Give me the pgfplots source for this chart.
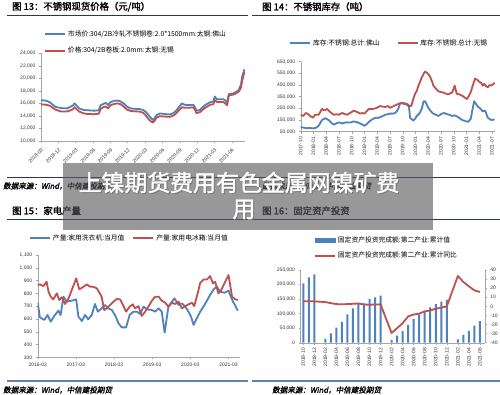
\documentclass[border=0pt]{standalone}
\usepackage{pgfplots}
\pgfplotsset{compat=1.18}
\usepackage{fontspec}
\setmainfont{Liberation Sans}
\newfontfamily\cjk{Noto Sans CJK SC}
\newfontfamily\cjkb[FakeBold=1.6]{Noto Sans CJK SC}
\newfontfamily\cjksrc[FakeSlant=0.2,FakeBold=1.4]{Noto Sans CJK SC}
\definecolor{sblue}{RGB}{79,129,189}
\definecolor{sred}{RGB}{192,80,77}
\definecolor{navy}{RGB}{31,56,100}
\definecolor{steel}{RGB}{100,130,165}
\definecolor{bannergray}{RGB}{90,90,90}
\pgfplotsset{every axis/.append style={scale only axis, anchor=south west,
  axis line style={-,gray!70}, tick style={gray!70, line width=0.4bp},
  major tick length=2bp, tick align=outside,
  scaled x ticks=false, scaled y ticks=false,
  ticklabel style={font=\fontsize{5}{6}\selectfont, text=black!80},
  legend style={draw=none, fill=none, font=\cjk\fontsize{6.8}{8}\selectfont,
    inner sep=0pt, anchor=north west},
  legend cell align=left}}
\begin{document}
\begin{tikzpicture}
\path[use as bounding box, fill=white] (0,0) rectangle (500bp,395bp);
% ---------- chart 13
\begin{axis}[at={(41bp,254bp)}, width=204bp, height=87.7bp,
  xmin=0, xmax=35.3, ymin=10000, ymax=24000,
  axis x line*=bottom, axis y line*=left,
  legend image code/.code={\draw[#1] (0bp,0bp) -- (20bp,0bp);},
  xtick={0,3,...,33},
  xticklabels={2018-09,2018-12,2019-03,2019-06,2019-09,2019-12,2020-03,2020-06,2020-09,2020-12,2021-03,2021-06},
  xticklabel style={rotate=45, anchor=north east},
  ytick={10000,12000,14000,16000,18000,20000,22000,24000},
  yticklabels={{10,000},{12,000},{14,000},{16,000},{18,000},{20,000},{22,000},{24,000}},
  legend style={at={(0.0147,1.285)}, row sep=5.5bp}]
\addplot[sblue, line width=1.8bp, line join=round] coordinates {
(0,16500) (0.8,16450) (1.5,16200) (2.5,15450) (3.5,15250) (4.5,15200) (5.5,15650) (5.8,16000) (6.6,15200) (7.4,14950) (8.2,14900) (9.2,14840) (10,14900) (10.3,15700) (10.8,15900) (11.2,16100) (11.6,15750) (12,16200) (12.6,16400) (13.2,16450) (13.7,16350) (14.3,16000) (14.9,15480) (15.5,15200) (16,15150) (17,15100) (17.7,14950) (18.2,14600) (18.6,14150) (19,13700) (19.4,13340) (19.7,13700) (20,14150) (20.6,14400) (21.5,14300) (22.3,14240) (23,14500) (23.5,14950) (24,15600) (24.4,16000) (24.8,15800) (25.2,15750) (26.4,15750) (26.7,15300) (26.9,14840) (27.5,14950) (28,15400) (28.4,15750) (29.3,16200) (29.8,16300) (30.1,17100) (30.4,16650) (31.6,16650) (32,16400) (32.2,16000) (32.5,17500) (33.3,17600) (34.2,18100) (34.6,19000) (34.8,20250) (35.2,21450)};
\addlegendentry{市场价:304/2B冷轧不锈钢卷:2.0*1500mm:太钢:佛山}
\addplot[sred, line width=1.8bp, line join=round] coordinates {
(0,15850) (0.8,15800) (1.5,15650) (2.5,15000) (3.5,14700) (4.5,14700) (5.5,15050) (5.8,15400) (6.6,14700) (7.4,14400) (8.2,14300) (9.2,14280) (10,14350) (10.3,15100) (10.8,15400) (11.2,15500) (11.6,15200) (12,15700) (12.6,15900) (13.2,16000) (13.7,15900) (14.3,15500) (14.9,15000) (15.5,14800) (16,14750) (17,14700) (17.7,14500) (18.2,14000) (18.6,13500) (19,13150) (19.4,12950) (19.7,13300) (20,13750) (20.6,13950) (21.5,13900) (22.3,13850) (23,14100) (23.5,14500) (24,15050) (24.4,15400) (24.8,15300) (25.2,15300) (26.4,15350) (26.7,14900) (26.9,14450) (27.5,14600) (28,15000) (28.4,15300) (29.3,15800) (29.8,15850) (30.1,16500) (30.4,16250) (31.6,16200) (32,15900) (32.2,15700) (32.5,17300) (33.3,17400) (34.2,17850) (34.6,18500) (34.8,19600) (35.2,21000)};
\addlegendentry{价格:304/2B卷板:2.0mm:太钢:无锡}
\end{axis}
% ---------- chart 14
\begin{axis}[at={(300.7bp,263.3bp)}, width=194.3bp, height=70bp,
  xmin=0, xmax=45.7, ymin=50000, ymax=650000,
  axis x line*=bottom, axis y line*=left,
  legend image code/.code={\draw[#1] (0bp,0bp) -- (20bp,0bp);},
  xtick={0,3,...,45},
  xticklabels={2017-10,2018-01,2018-04,2018-07,2018-10,2019-01,2019-04,2019-07,2019-10,2020-01,2020-04,2020-07,2020-10,2021-01,2021-04,2021-07},
  xticklabel style={rotate=90, anchor=east},
  ytick={50000,150000,250000,350000,450000,550000,650000},
  yticklabels={{50,000},{150,000},{250,000},{350,000},{450,000},{550,000},{650,000}},
  legend columns=2,
  legend style={at={(-0.060,1.349)}, /tikz/every even column/.append style={column sep=15bp}}]
\addplot[sblue, line width=1.8bp, line join=round] coordinates {
(0,90000) (0.6,85000) (1.4,80000) (2.2,82000) (3,78000) (3.6,84000) (4.2,100000) (4.6,125000) (5,150000) (5.8,165000) (6.6,150000) (7.2,125000) (7.8,110000) (8.4,122000) (9,130000) (9.8,120000) (10.4,128000) (10.9,130000) (11.6,128000) (12.5,138000) (13.2,132000) (14,120000) (14.5,112000) (15,100000) (15.6,118000) (16.4,145000) (17,160000) (17.6,170000) (18.2,168000) (18.7,175000) (19.3,185000) (19.9,195000) (20.5,200000) (21,205000) (21.6,205000) (22.2,210000) (22.6,225000) (23,250000) (23.4,295000) (24.2,295000) (24.8,290000) (25.4,280000) (25.6,220000) (25.7,170000) (26.5,145000) (26.9,160000) (27.3,185000) (28,210000) (28.5,250000) (28.9,310000) (29.3,310000) (30,255000) (30.6,225000) (31.2,205000) (31.8,195000) (32.4,185000) (33.2,205000) (33.8,210000) (34.4,200000) (35,195000) (35.6,185000) (36.2,190000) (36.8,180000) (37.4,165000) (38,150000) (38.8,140000) (39.4,135000) (40,160000) (40.4,240000) (40.8,310000) (41.2,290000) (41.6,268000) (42.2,250000) (42.8,225000) (43.4,230000) (44,170000) (44.8,150000) (45.6,155000)};
\addlegendentry{库存:不锈钢:总计:佛山}
\addplot[sred, line width=1.8bp, line join=round] coordinates {
(0,195000) (0.6,185000) (1.2,210000) (1.8,200000) (2.2,185000) (2.9,170000) (3.4,195000) (4.2,195000) (4.6,220000) (5,245000) (5.4,235000) (5.8,237000) (6.2,245000) (6.6,230000) (7.2,210000) (7.8,195000) (8.4,200000) (9,195000) (9.4,205000) (9.8,210000) (10.4,200000) (10.9,195000) (11.6,210000) (12.5,230000) (13.2,220000) (14,205000) (14.5,210000) (15,205000) (15.5,225000) (16,245000) (16.8,245000) (17.6,250000) (18.2,260000) (18.7,270000) (19.3,265000) (19.9,262000) (20.5,270000) (21,255000) (21.6,265000) (22.2,275000) (22.8,285000) (23.4,295000) (24.2,290000) (24.8,285000) (25.4,270000) (26,270000) (26.4,320000) (26.9,375000) (27.3,400000) (27.7,445000) (28.1,480000) (28.5,517000) (29.2,565000) (29.7,555000) (30.1,540000) (30.5,517000) (31,470000) (31.2,445000) (31.8,420000) (32.4,395000) (33,390000) (33.6,385000) (34.2,375000) (34.7,370000) (35.2,380000) (35.6,385000) (36,420000) (36.2,445000) (36.7,375000) (37.3,370000) (37.9,360000) (38.5,345000) (39.1,330000) (39.6,360000) (40,390000) (40.5,450000) (41,505000) (41.5,495000) (41.9,480000) (42.4,470000) (42.8,445000) (43.2,460000) (43.6,440000) (44,430000) (44.4,450000) (44.8,445000) (45.2,455000) (45.6,470000)};
\addlegendentry{库存:不锈钢:总计:无锡}
\end{axis}
% ---------- chart 15
\begin{axis}[at={(37.7bp,37.7bp)}, width=202.3bp, height=102.3bp,
  xmin=0, xmax=63.6, ymin=300, ymax=1100,
  axis x line*=bottom, axis y line*=left,
  legend image code/.code={\draw[#1] (0bp,0bp) -- (20bp,0bp);},
  xtick={0,12,24,36,48,60},
  xticklabels={2016-03,2017-03,2018-03,2019-03,2020-03,2021-03},
  ytick={300,400,500,600,700,800,900,1000,1100},
  yticklabels={300,400,500,600,700,800,900,{1,000},{1,100}},
  legend columns=2,
  legend style={at={(-0.043,1.222)}, /tikz/every even column/.append style={column sep=6bp}}]
\addplot[sblue, line width=1.8bp, line join=round] coordinates {
(0,727) (0.7,612) (2.1,592) (3.1,631) (4.1,579) (5.2,623) (6.5,665) (7.2,631) (8.1,774) (9.1,735) (10.7,743) (12.1,753) (12.8,618) (13.9,584) (14.9,631) (15.9,597) (17,631) (18,717) (18.9,657) (20.1,683) (21.2,709) (22.2,683) (23.3,670) (24.3,631) (25.4,566) (26.4,534) (27.8,534) (28.9,631) (30.1,657) (31.2,657) (32.2,639) (33.3,696) (34.3,675) (35.9,670) (36.9,657) (38,683) (39,657) (39.9,493) (41.1,696) (42.2,735) (43,761) (44.3,709) (45.3,722) (46.4,696) (47.4,657) (48.2,618) (49,553) (50,605) (51.1,657) (52.2,700) (53.2,743) (54.2,787) (55.3,831) (56.3,852) (57.4,813) (58.7,805) (60,821) (60.5,787) (61.4,735) (62.2,700) (62.9,665)};
\addlegendentry{产量:家用洗衣机:当月值}
\addplot[sred, line width=1.8bp, line join=round] coordinates {
(0,865) (0.7,870) (1.8,857) (2.8,891) (3.4,813) (4.1,774) (4.9,753) (6,800) (6.8,748) (7.6,769) (8.6,717) (9.7,761) (10.7,826) (12.1,917) (13.1,831) (14.4,852) (15.4,870) (16.5,852) (17.5,852) (18.6,839) (19.4,805) (20.1,774) (20.9,670) (21.7,683) (22.8,709) (23.8,735) (24.9,756) (25.9,753) (26.8,709) (27.8,657) (28.9,696) (29.9,714) (30.6,683) (31.7,700) (32.7,623) (33.8,657) (34.8,696) (35.9,743) (36.9,774) (38,774) (39,743) (40.1,727) (41.1,696) (42.2,727) (43.2,717) (44.3,735) (45.3,683) (46.4,700) (47.4,714) (48.5,727) (49.2,700) (50.3,800) (51.1,883) (52.2,909) (53.2,909) (54.2,935) (55.1,878) (55.8,891) (56.8,800) (57.7,826) (58.8,883) (60,943) (61.1,774) (62.1,753) (62.9,748)};
\addlegendentry{产量:家用电冰箱:当月值}
\end{axis}
% ---------- chart 16
\begin{axis}[at={(300.5bp,52.3bp)}, width=184.4bp, height=72.7bp,
  xmin=-0.5, xmax=32.9, ymin=0, ymax=250000,
  axis x line*=bottom, axis y line*=left,
  xtick={0,2,...,32},
  xticklabels={2018-10,2018-12,2019-02,2019-04,2019-06,2019-08,2019-10,2019-12,2020-02,2020-04,2020-06,2020-08,2020-10,2020-12,2021-02,2021-04,2021-06},
  xticklabel style={rotate=90, anchor=east},
  ytick={0,50000,100000,150000,200000,250000},
  yticklabels={0,{50,000},{100,000},{150,000},{200,000},{250,000}}]
\addplot[ybar, bar width=2bp, bar shift=0pt, fill=sblue, draw=none] coordinates {
(0,204000) (1,225000) (2,235000) (4,13000) (5,32000) (6,52000) (7,72000) (8,97600) (9,118000) (10,133000) (11,135000) (12,150000) (13,156000) (14,162000) (16,9000) (17,24000) (18,40000) (19,61000) (20,81500) (21,97600) (22,106600) (23,121700) (24,133000) (25,141000) (26,147000) (28,11700) (29,26500) (30,41000) (31,58500) (32,74600)};
\end{axis}
\begin{axis}[at={(300.5bp,52.3bp)}, width=184.4bp, height=72.7bp,
  xmin=-0.5, xmax=32.9, ymin=-40, ymax=40,
  axis x line=none, axis y line*=right,
  legend image code/.code={\draw[#1] (0bp,0bp) -- (20bp,0bp);},
  ytick={-40,-30,-20,-10,0,10,20,30,40},
  yticklabels={-40,-30,-20,-10,0,10,20,30,40},
  legend style={at={(0.073,1.491)}, row sep=4.5bp}]
\addlegendimage{legend image code/.code={\fill[sblue] (0bp,-2.2bp) rectangle (20bp,2.2bp);}}
\addlegendentry{固定资产投资完成额:第二产业:累计值}
\addplot[sred, line width=1.8bp, line join=round] coordinates {
(0,5.5) (1,5.5) (2,5.5) (4,4.7) (5,3.5) (6,2.5) (7,2.2) (8,2.5) (9,2.8) (10,3.2) (11,2) (12,1.8) (13,2) (14,2.2) (16,-29.4) (17,-24) (18,-18.5) (19,-11) (20,-9) (21,-8) (22,-5.5) (23,-4.5) (24,-2.6) (25,-1.5) (26,0) (28,33.4) (29,26.8) (30,22) (31,17.6) (32,15.8)};
\addlegendentry{固定资产投资完成额:第二产业:累计同比}
\end{axis}
% ---------- frame texts
\tikzset{ttl/.style={anchor=west, inner sep=0pt, font=\cjkb\fontsize{9.4}{11}\selectfont},
  src/.style={anchor=west, inner sep=0pt, font=\cjksrc\fontsize{7.6}{9}\selectfont}}
\node[ttl] at (12bp,388.3bp) {图 13：不锈钢现货价格（元/吨）};
\node[ttl] at (262bp,388.3bp) {图 14：不锈钢库存（吨）};
\node[ttl] at (12bp,184.3bp) {图 15：家电产量};
\node[ttl] at (262bp,184.3bp) {图 16：固定资产投资};
\draw[navy, line width=0.8bp] (7bp,380bp) -- (248bp,380bp) (252bp,380bp) -- (500bp,380bp);
\draw[navy, line width=0.8bp] (7bp,218bp) -- (248bp,218bp) (252bp,218bp) -- (500bp,218bp);
\draw[navy, line width=0.8bp] (7bp,176bp) -- (248bp,176bp) (252bp,176bp) -- (500bp,176bp);
\draw[steel, line width=1.8bp] (7bp,14bp) -- (248bp,14bp) (252bp,14bp) -- (500bp,14bp);
\node[src] at (3bp,209bp) {数据来源：Wind，中信建投期货};
\node[src] at (262bp,209bp) {数据来源：Wind，中信建投期货};
\node[src] at (3bp,5bp) {数据来源：Wind，中信建投期货};
\node[src] at (272bp,5bp) {数据来源：Wind，中信建投期货};
% ---------- banner
\fill[bannergray, opacity=0.62] (63bp,165bp) rectangle (433bp,232bp);
\begin{scope}[every node/.style={inner sep=0pt, font=\cjkb\fontsize{23}{26}\selectfont}]
\node[text=black!55, opacity=0.8] at (240bp,211.5bp) {上镍期货费用有色金属网镍矿费};
\node[text=white] at (239bp,212.5bp) {上镍期货费用有色金属网镍矿费};
\node[text=black!55, opacity=0.8] at (245bp,184.5bp) {用};
\node[text=white] at (244bp,185.5bp) {用};
\end{scope}
\end{tikzpicture}
\end{document}
